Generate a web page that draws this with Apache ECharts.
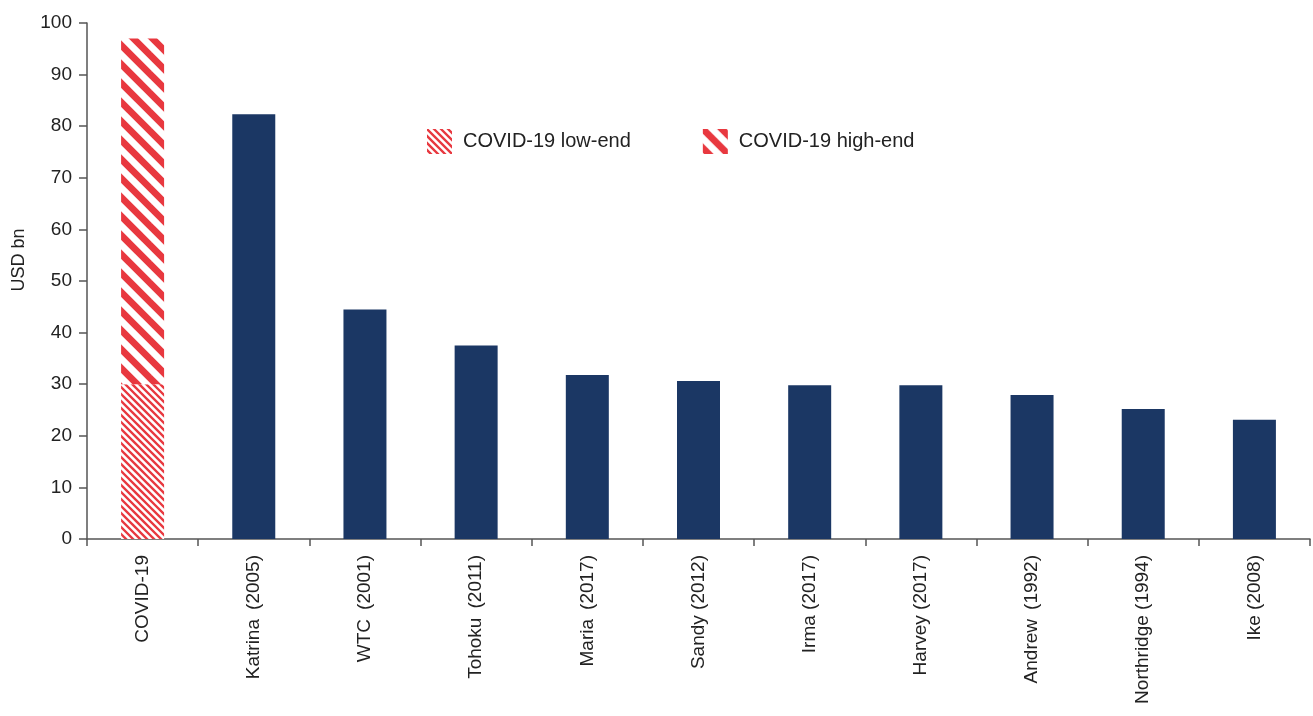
<!DOCTYPE html>
<html>
<head>
<meta charset="utf-8">
<script src="https://cdn.jsdelivr.net/npm/echarts@6/dist/echarts.min.js"></script>
<style>
html,body{margin:0;padding:0;background:#fff;}
#chart{width:1313px;height:716px;}
</style>
</head>
<body>
<div id="chart"></div>
<script>
var categories = ['COVID-19','Katrina \u2009(2005)','WTC \u2009(2001)','Tohoku \u2009(2011)','Maria \u2009(2017)','Sandy (2012)','Irma (2017)','Harvey (2017)','Andrew \u2009(1992)','Northridge (1994)','Ike (2008)'];
var covidLow = [30, '-', '-', '-', '-', '-', '-', '-', '-', '-', '-'];
var covidHighExtra = [67, '-', '-', '-', '-', '-', '-', '-', '-', '-', '-'];
var pastEvents = ['-', 82.3, 44.5, 37.5, 31.8, 30.6, 29.8, 29.8, 27.9, 25.2, 23.1];
var yTicks = [0,10,20,30,40,50,60,70,80,90,100];
var yTitle = 'USD bn';

var RED = '#e8383f';
var NAVY = '#1b3764';
var FONT = 'Liberation Sans, Arial, sans-serif';

function stripes(period, width) {
  var n = 4;
  var s = period * n;
  var c = document.createElement('canvas');
  c.width = s; c.height = s;
  var ctx = c.getContext('2d');
  ctx.fillStyle = '#fff';
  ctx.fillRect(0, 0, s, s);
  ctx.strokeStyle = RED;
  ctx.lineWidth = width;
  ctx.lineCap = 'square';
  for (var k = -n - 1; k <= n + 1; k++) {
    var x0 = k * period;
    ctx.beginPath();
    ctx.moveTo(x0 - s, -s);
    ctx.lineTo(x0 + 2 * s, 2 * s);
    ctx.stroke();
  }
  return {image: c, repeat: 'repeat'};
}

var lowPat = stripes(7, 2.3);
var highPat = stripes(19, 6.8);

var chart = echarts.init(document.getElementById('chart'));
chart.setOption({
  animation: false,
  backgroundColor: '#fff',
  textStyle: {fontFamily: FONT},
  legend: {
    data: ['COVID-19 low-end', 'COVID-19 high-end'],
    left: 422, top: 124,
    itemWidth: 25, itemHeight: 25,
    itemGap: 72,
    icon: 'rect',
    textStyle: {fontSize: 20, color: '#222', fontFamily: FONT, padding: [0,0,0,6]}
  },
  graphic: [{
    type: 'text',
    x: 19, y: 260,
    rotation: Math.PI / 2,
    style: {text: yTitle, fontSize: 18, fill: '#222', fontFamily: FONT,
            align: 'center', verticalAlign: 'middle'}
  }],
  grid: {left: 87, right: 3, top: 23, bottom: 177, containLabel: false},
  xAxis: {
    type: 'category',
    data: categories,
    axisLine: {lineStyle: {color: '#555', width: 1.5}},
    axisTick: {show: true, length: 7, lineStyle: {color: '#555', width: 1.5}, alignWithLabel: false},
    axisLabel: {rotate: 90, interval: 0, fontSize: 19, color: '#222', margin: 16, fontFamily: FONT}
  },
  yAxis: {
    type: 'value',
    min: 0, max: 100, interval: 10,
    splitLine: {show: false},
    axisLine: {show: true, lineStyle: {color: '#555', width: 1.5}},
    axisTick: {show: true, length: 8, lineStyle: {color: '#555', width: 1.5}},
    axisLabel: {fontSize: 19, color: '#222', margin: 15, fontFamily: FONT,
      formatter: function (v) { return yTicks.indexOf(v) >= 0 ? String(v) : ''; }}
  },
  series: [
    {name: 'COVID-19 low-end', type: 'bar', stack: 'loss', barWidth: 43,
     data: covidLow, itemStyle: {color: lowPat}},
    {name: 'COVID-19 high-end', type: 'bar', stack: 'loss', barWidth: 43,
     data: covidHighExtra, itemStyle: {color: highPat}},
    {name: 'Past events', type: 'bar', stack: 'loss', barWidth: 43,
     data: pastEvents, itemStyle: {color: NAVY}}
  ]
});
</script>
</body>
</html>
